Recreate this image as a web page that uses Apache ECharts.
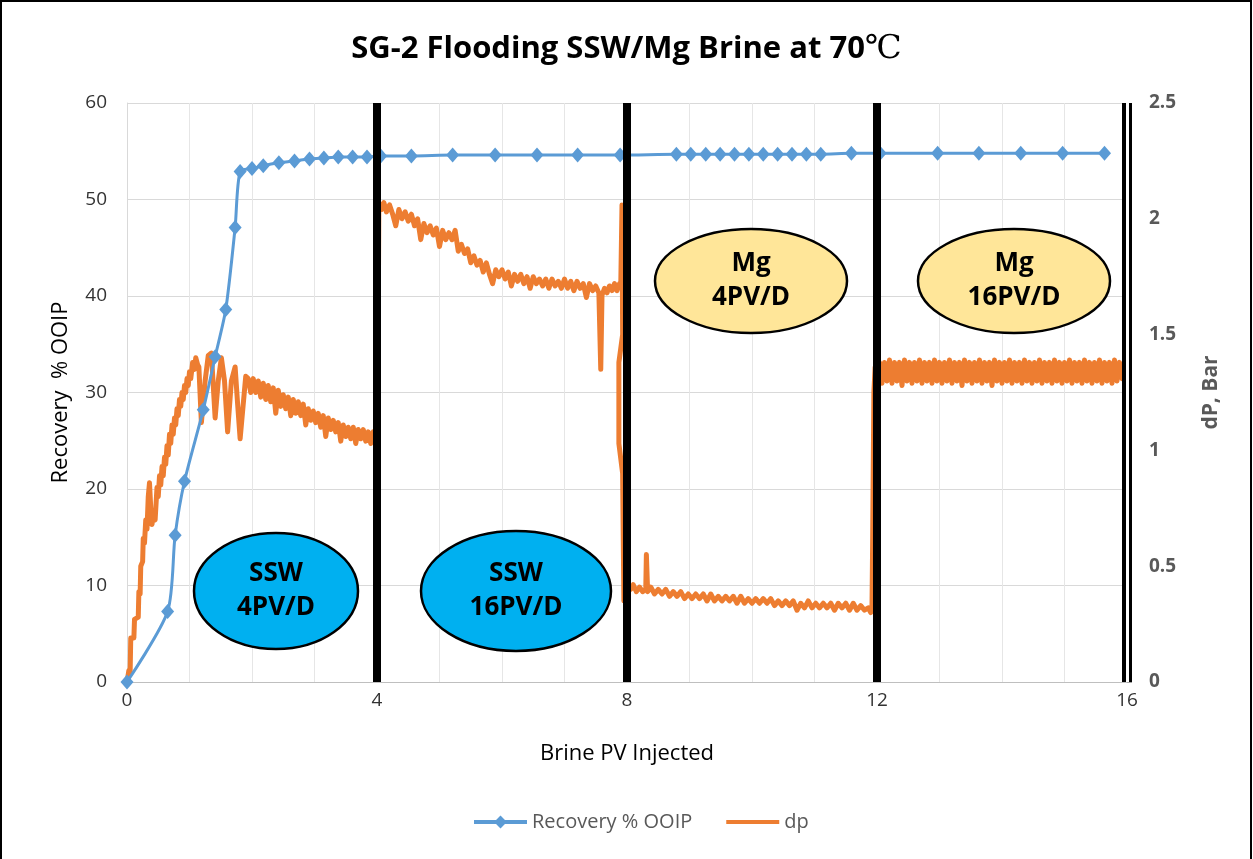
<!DOCTYPE html>
<html><head><meta charset="utf-8">
<script src="https://cdn.jsdelivr.net/npm/echarts@6/dist/echarts.min.js"></script>
<style>html,body{margin:0;padding:0;background:#fff}#c{width:1253px;height:859px}</style>
</head><body><div id="c"></div><script>
const titleMain = 'SG-2 Flooding SSW/Mg Brine at 70';
const titleUnit = '℃';
const xTickLabels = [0, 4, 8, 12, 16];
const brineSwitches = [4, 8, 12];
const recX = [0,0.65,0.77,0.92,1.22,1.41,1.58,1.73,1.81,2.00,2.18,2.43,2.68,2.92,3.15,3.38,3.61,3.84,4.06,4.55,5.21,5.89,6.56,7.21,7.89,8.79,9.02,9.26,9.49,9.72,9.95,10.18,10.41,10.64,10.87,11.10,11.59,12.05,12.97,13.63,14.30,14.97,15.64];
const recY = [0,7.3,15.2,20.8,28.2,33.7,38.6,47.1,52.9,53.2,53.5,53.8,54.0,54.2,54.3,54.4,54.4,54.4,54.5,54.5,54.6,54.6,54.6,54.6,54.6,54.7,54.7,54.7,54.7,54.7,54.7,54.7,54.7,54.7,54.7,54.7,54.8,54.8,54.8,54.8,54.8,54.8,54.8];

// dp (bar), one array per brine stage (band edges of the noisy trace)
const dpSSW4 = [[0,0],[0.03,0.05],[0.05,0.04],[0.06,0.19],[0.11,0.19],[0.12,0.27],[0.18,0.28],[0.19,0.39],[0.21,0.38],[0.22,0.5],[0.25,0.52],[0.26,0.62],[0.28,0.6],[0.3,0.7],[0.32,0.66],[0.34,0.8],[0.36,0.86],[0.38,0.75],[0.4,0.68],[0.42,0.72],[0.45,0.7],
[0.48,0.84],[0.5,0.80],[0.52,0.89],[0.54,0.85],[0.56,0.93],[0.58,0.89],[0.6,0.97],[0.62,0.94],[0.64,1.02],[0.66,0.98],[0.68,1.07],[0.70,1.03],[0.72,1.11],[0.74,1.07],[0.76,1.14],[0.78,1.11],[0.80,1.18],[0.82,1.15],[0.84,1.22],[0.86,1.19],[0.88,1.25],[0.90,1.22],[0.92,1.28],[0.94,1.25],[0.96,1.31],[0.98,1.28],[1.00,1.34],[1.02,1.31],[1.05,1.38],[1.08,1.35],[1.10,1.40],[1.13,1.37],
[1.15,1.36],[1.19,1.12],[1.25,1.3],[1.3,1.41],[1.35,1.42],[1.41,1.14],[1.46,1.3],[1.51,1.40],[1.56,1.3],[1.61,1.08],[1.67,1.3],[1.73,1.36],[1.77,1.2],[1.81,1.05],[1.86,1.2],[1.90,1.32],
[1.94,1.31],[1.98,1.25],[2.02,1.31],[2.06,1.25],[2.10,1.30],[2.14,1.23],[2.18,1.29],[2.22,1.22],[2.26,1.28],[2.30,1.21],[2.34,1.27],[2.38,1.16],[2.42,1.26],[2.46,1.19],[2.50,1.24],[2.54,1.18],[2.58,1.23],[2.62,1.15],[2.66,1.22],[2.70,1.16],[2.74,1.21],[2.78,1.15],[2.82,1.20],[2.86,1.11],[2.90,1.18],[2.94,1.13],[2.98,1.17],[3.02,1.12],[3.06,1.16],[3.10,1.10],[3.14,1.15],[3.18,1.06],[3.22,1.14],[3.26,1.09],[3.30,1.13],[3.34,1.08],[3.38,1.12],[3.42,1.04],[3.46,1.11],[3.50,1.06],[3.54,1.10],[3.58,1.05],[3.62,1.10],[3.66,1.03],[3.70,1.09],[3.74,1.05],[3.78,1.09],[3.82,1.04],[3.86,1.08],[3.90,1.03],[3.94,1.08],[3.98,1.03],[4.01,1.07]];
const dpSSW16 = [[4.03,2.07],[4.07,2.04],[4.11,2.07],[4.15,2.03],[4.20,2.06],[4.25,2.02],[4.30,1.97],[4.35,2.04],[4.40,2.00],[4.45,2.03],[4.50,1.99],[4.55,2.02],[4.60,1.97],[4.65,2.00],[4.70,1.91],[4.75,1.98],[4.80,1.94],[4.85,1.97],[4.90,1.93],[4.95,1.96],[5.00,1.88],[5.05,1.95],[5.10,1.91],[5.15,1.94],[5.20,1.91],[5.25,1.95],[5.30,1.86],[5.35,1.89],[5.40,1.85],[5.45,1.87],[5.50,1.81],[5.55,1.84],[5.60,1.80],[5.65,1.82],[5.70,1.77],[5.75,1.81],[5.80,1.76],[5.85,1.72],[5.90,1.78],[5.95,1.75],[6.00,1.78],[6.05,1.74],[6.10,1.77],[6.15,1.71],[6.20,1.76],[6.25,1.73],[6.30,1.76],[6.35,1.72],[6.40,1.75],[6.45,1.70],[6.50,1.75],[6.55,1.72],[6.60,1.74],[6.65,1.71],[6.70,1.74],[6.75,1.70],[6.80,1.74],[6.85,1.71],[6.90,1.73],[6.95,1.70],[7.00,1.74],[7.05,1.70],[7.10,1.73],[7.15,1.69],[7.20,1.73],[7.25,1.70],[7.30,1.72],[7.35,1.66],[7.40,1.72],[7.45,1.69],[7.50,1.71],[7.55,1.68],[7.58,1.35],[7.60,1.67],[7.64,1.70],[7.68,1.68],[7.72,1.71],[7.76,1.69],[7.80,1.72],[7.84,1.69],[7.88,1.72],[7.90,1.71],[7.92,2.06],[7.93,1.5],[7.87,1.38],[7.87,1.03],[7.93,0.9],[7.95,0.35]];
const dpMg4 = [[7.98,0.38],[8.02,0.42],[8.06,0.40],[8.10,0.42],[8.15,0.39],[8.20,0.41],[8.25,0.39],[8.30,0.40],[8.31,0.55],[8.33,0.39],[8.38,0.41],[8.44,0.38],[8.50,0.40],[8.56,0.38],[8.62,0.40],[8.68,0.37],[8.74,0.39],[8.80,0.37],[8.86,0.39],[8.92,0.36],[8.98,0.38],[9.04,0.36],[9.10,0.38],[9.16,0.36],[9.22,0.38],[9.28,0.35],[9.34,0.38],[9.40,0.35],[9.46,0.37],[9.52,0.35],[9.58,0.37],[9.64,0.35],[9.70,0.37],[9.76,0.34],[9.82,0.37],[9.88,0.34],[9.94,0.36],[10.00,0.34],[10.06,0.36],[10.12,0.34],[10.18,0.36],[10.24,0.34],[10.30,0.36],[10.36,0.33],[10.42,0.35],[10.48,0.33],[10.54,0.35],[10.60,0.33],[10.66,0.35],[10.72,0.31],[10.78,0.34],[10.84,0.32],[10.90,0.35],[10.96,0.32],[11.02,0.34],[11.08,0.32],[11.14,0.34],[11.20,0.32],[11.26,0.34],[11.32,0.31],[11.38,0.34],[11.44,0.32],[11.50,0.34],[11.56,0.31],[11.62,0.34],[11.68,0.31],[11.74,0.33],[11.80,0.31],[11.86,0.32],[11.90,0.30],[11.92,0.33]];
const dpMg16 = [[11.93,0.6],[11.95,1.25],[11.97,1.36],[12.0,1.30],[12.04,1.38],[12.08,1.29],[12.12,1.38],[12.16,1.30],[12.2,1.39],[12.24,1.29],[12.28,1.38],[12.32,1.30],[12.36,1.38],[12.4,1.28],[12.44,1.39],[12.48,1.30],[12.52,1.38],[12.56,1.29],[12.6,1.38],[12.64,1.30],[12.68,1.39],[12.72,1.29],[12.76,1.38],[12.8,1.30],[12.84,1.38],[12.88,1.29],[12.92,1.39],[12.96,1.30],[13.0,1.38],[13.04,1.29],[13.08,1.38],[13.12,1.30],[13.16,1.39],[13.2,1.29],[13.24,1.38],[13.28,1.30],[13.32,1.38],[13.36,1.28],[13.4,1.39],[13.44,1.30],[13.48,1.38],[13.52,1.29],[13.56,1.38],[13.6,1.30],[13.64,1.39],[13.68,1.29],[13.72,1.38],[13.76,1.30],[13.8,1.38],[13.84,1.28],[13.88,1.39],[13.92,1.30],[13.96,1.38],[14.0,1.29],[14.04,1.38],[14.08,1.30],[14.12,1.39],[14.16,1.29],[14.2,1.38],[14.24,1.30],[14.28,1.38],[14.32,1.29],[14.36,1.39],[14.4,1.30],[14.44,1.38],[14.48,1.29],[14.52,1.38],[14.56,1.30],[14.6,1.39],[14.64,1.29],[14.68,1.38],[14.72,1.30],[14.76,1.38],[14.8,1.29],[14.84,1.39],[14.88,1.30],[14.92,1.38],[14.96,1.29],[15.0,1.38],[15.04,1.30],[15.08,1.39],[15.12,1.29],[15.16,1.38],[15.2,1.30],[15.24,1.38],[15.28,1.29],[15.32,1.39],[15.36,1.30],[15.4,1.38],[15.44,1.29],[15.48,1.38],[15.52,1.30],[15.56,1.39],[15.6,1.29],[15.64,1.38],[15.68,1.30],[15.72,1.38],[15.76,1.29],[15.8,1.39],[15.84,1.30],[15.88,1.38],[15.92,1.31],[15.94,1.35]];

const notes = [
  {text:'SSW\n4PV/D', cx:276, cy:591, rx:82, ry:58, fill:'#00b0f0'},
  {text:'SSW\n16PV/D', cx:516, cy:591, rx:95, ry:60, fill:'#00b0f0'},
  {text:'Mg\n4PV/D', cx:751, cy:281, rx:96, ry:52, fill:'#ffe699'},
  {text:'Mg\n16PV/D', cx:1014, cy:281, rx:96, ry:52, fill:'#ffe699'}
];

const FONT = '"Open Sans", "Noto Sans", sans-serif';
const chart = echarts.init(document.getElementById('c'));
const graphics = [{type:'rect', shape:{x:1,y:1,width:1250,height:880}, style:{fill:'none', stroke:'#000', lineWidth:2}, z:-10}];
notes.forEach(n => {
  graphics.push({type:'ellipse', shape:{cx:n.cx, cy:n.cy, rx:n.rx, ry:n.ry}, style:{fill:n.fill, stroke:'#000', lineWidth:2.5}, z:50});
  graphics.push({type:'text', x:n.cx, y:n.cy, style:{text:n.text, fill:'#000', font:'bold 26px ' + FONT, align:'center', verticalAlign:'middle', lineHeight:34}, z:51});
});

const switchLines = brineSwitches.map(v => ({xAxis:v, lineStyle:{color:'#000', width:8, type:'solid'}}));
switchLines.push({xAxis:16, lineStyle:{color:'#000', width:10, type:'solid'}});
switchLines.push({xAxis:16, lineStyle:{color:'#fff', width:3, type:'solid'}});

chart.setOption({
  animation:false,
  textStyle:{fontFamily:FONT},
  title:{text:titleMain + '{u|' + titleUnit + '}', left:'center', top:28,
    textStyle:{fontSize:31, fontWeight:'bold', color:'#000', fontFamily:FONT,
      rich:{u:{fontSize:33, fontWeight:'normal', color:'#000', fontFamily:'"Liberation Serif", "DejaVu Serif", serif'}}}},
  legend:{bottom:22, left:467, itemWidth:53, itemHeight:16, itemGap:34, textStyle:{fontSize:20, color:'#595959'},
    data:[{name:'Recovery % OOIP', lineStyle:{width:4}}, {name:'dp', icon:'path://M0,0h50v4h-50z'}]},
  grid:{left:127, right:126, top:103, bottom:177},
  xAxis:{type:'value', min:0, max:16, interval:1,
    axisLine:{show:true, lineStyle:{color:'#bfbfbf', width:1}}, axisTick:{show:false},
    axisLabel:{color:'#333', fontSize:19, margin:9, formatter:v => xTickLabels.includes(v) ? String(v) : ''},
    splitLine:{show:true, lineStyle:{color:'#e6e6e6', width:1}},
    name:'Brine PV Injected', nameLocation:'middle', nameGap:61, nameTextStyle:{fontSize:22, color:'#000'}},
  yAxis:[
    {type:'value', min:0, max:60, interval:10, position:'left',
      axisLine:{show:true, lineStyle:{color:'#d9d9d9'}}, axisTick:{show:false},
      axisLabel:{color:'#333', fontSize:19, margin:20},
      splitLine:{show:true, lineStyle:{color:'#d9d9d9', width:1}},
      name:'Recovery  % OOIP', nameLocation:'middle', nameGap:55, nameRotate:90, nameTextStyle:{fontSize:22, color:'#000'}},
    {type:'value', min:0, max:2.5, interval:0.5, position:'right',
      axisLine:{show:false}, axisTick:{show:true, length:5, lineStyle:{color:'#a6a6a6'}},
      axisLabel:{color:'#595959', fontSize:19, fontWeight:'bold', margin:22},
      splitLine:{show:false},
      name:'dP, Bar', nameLocation:'middle', nameGap:74, nameRotate:90, nameTextStyle:{fontSize:21, color:'#595959', fontWeight:'bold'}}
  ],
  graphic:graphics,
  series:[
    {type:'line', name:'_switch', data:[], z:1, silent:true, markLine:{silent:true, symbol:['none','none'], label:{show:false}, data:switchLines}},
    {type:'line', name:'dp', yAxisIndex:1, data:dpSSW4.concat(dpSSW16, dpMg4, dpMg16), symbol:'none', sampling:null, lineStyle:{color:'#ed7d31', width:5, join:'round'}, itemStyle:{color:'#ed7d31'}, z:3},
    {type:'line', name:'Recovery % OOIP', yAxisIndex:0, data:recX.map((x,i)=>[x, recY[i]]), smooth:0.25, symbol:'diamond', symbolSize:[13,15], lineStyle:{color:'#5b9bd5', width:3}, itemStyle:{color:'#5b9bd5'}, z:4}
  ]
});
</script></body></html>
